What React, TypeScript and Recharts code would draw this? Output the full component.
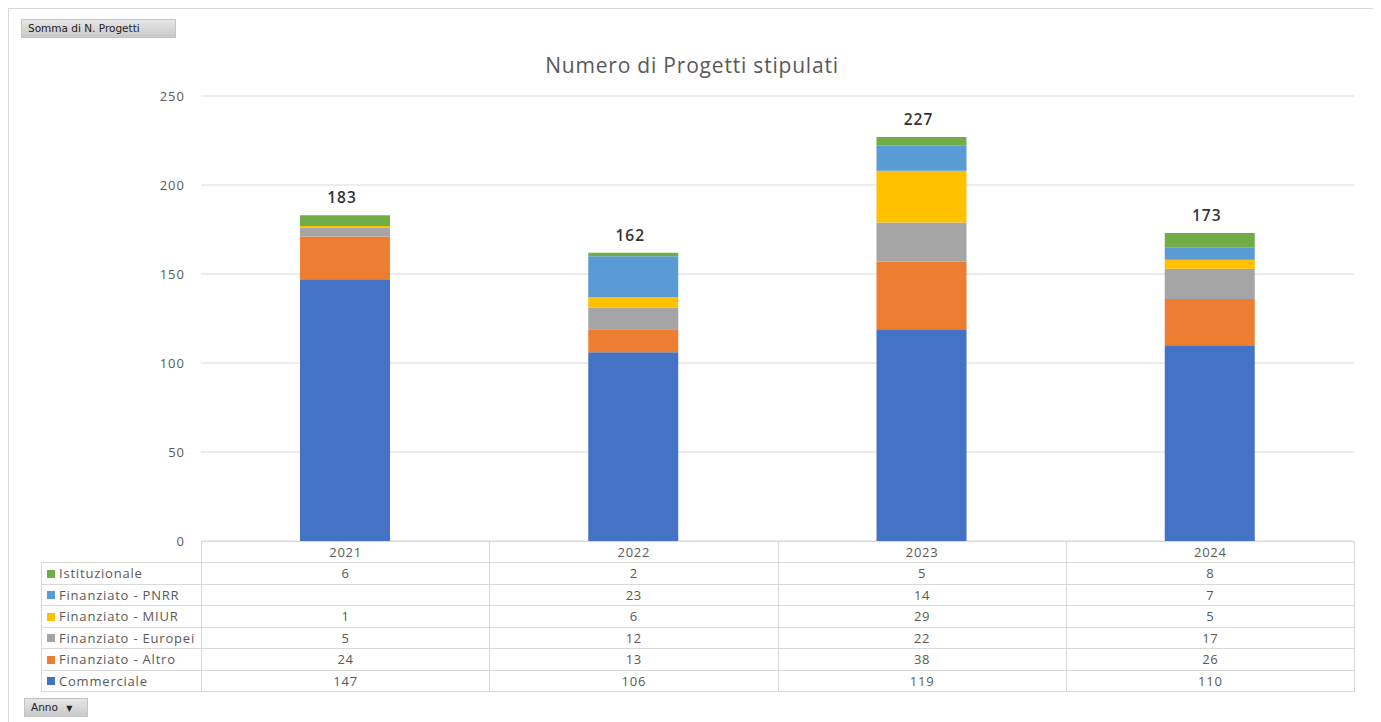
import React from "react";
import { BarChart, Bar, XAxis, YAxis, CartesianGrid, LabelList } from "recharts";

// Years on the category axis
const years = ["2021", "2022", "2023", "2024"];

// Project counts per funding type, one value per year
const commerciale = [147, 106, 119, 110];
const finanziatoAltro = [24, 13, 38, 26];
const finanziatoEuropei = [5, 12, 22, 17];
const finanziatoMiur = [1, 6, 29, 5];
const finanziatoPnrr = [null, 23, 14, 7];
const istituzionale = [6, 2, 5, 8];

const yTicks = [0, 50, 100, 150, 200, 250];

// Stack order from bottom to top
const seriesDefs = [
  { key: "commerciale", name: "Commerciale", color: "#4472C4", values: commerciale },
  { key: "altro", name: "Finanziato - Altro", color: "#ED7D31", values: finanziatoAltro },
  { key: "europei", name: "Finanziato - Europei", color: "#A5A5A5", values: finanziatoEuropei },
  { key: "miur", name: "Finanziato - MIUR", color: "#FFC000", values: finanziatoMiur },
  { key: "pnrr", name: "Finanziato - PNRR", color: "#5B9BD5", values: finanziatoPnrr },
  { key: "istituzionale", name: "Istituzionale", color: "#70AD47", values: istituzionale },
];

const data = years.map((year, i) => {
  const row: Record<string, any> = { year };
  let total = 0;
  seriesDefs.forEach((s) => {
    row[s.key] = s.values[i];
    total += s.values[i] ?? 0;
  });
  row.total = total;
  return row;
});

const FONT = "'Open Sans', 'Noto Sans', sans-serif";
const GRID = "#d9d9d9";
const TEXT = "#595959";

const W = 1366;
const PLOT_LEFT = 192;
const PLOT_RIGHT = 1345;
const PLOT_TOP = 87;
const PLOT_BOTTOM = 532;
const CHART_H = 540;
const LEGEND_COL = 160;
const CAT_W = (PLOT_RIGHT - PLOT_LEFT) / years.length;

const buttonStyle: React.CSSProperties = {
  position: "absolute",
  height: 19,
  boxSizing: "border-box",
  background: "linear-gradient(#e6e6e6, #c9c9c9)",
  border: "1px solid #c4c4c4",
  fontFamily: "'DejaVu Sans', Verdana, sans-serif",
  fontSize: 10.5,
  color: "#222",
  lineHeight: "17px",
  paddingLeft: 6,
};

export default function App() {
  // Table rows listed top to bottom (reverse of the stack order)
  const tableRows = [...seriesDefs].reverse();
  const cellBorder = `1px solid ${GRID}`;
  return (
    <div
      style={{
        position: "relative",
        width: W,
        height: 714,
        boxSizing: "border-box",
        borderTop: `1px solid ${GRID}`,
        borderLeft: `1px solid ${GRID}`,
        borderRight: `1px solid ${GRID}`,
        background: "#fff",
        fontFamily: FONT,
      }}
    >
      <div style={{ ...buttonStyle, left: 12, top: 10, width: 155 }}>Somma di N. Progetti</div>

      <div
        style={{
          position: "absolute",
          left: 0,
          width: W,
          top: 42,
          textAlign: "center",
          fontSize: 21,
          letterSpacing: 0.8,
          color: TEXT,
          fontFamily: FONT,
        }}
      >
        Numero di Progetti stipulati
      </div>

      <div style={{ position: "absolute", left: 0, top: 0 }}>
        <BarChart
          width={W}
          height={CHART_H}
          data={data}
          barSize={90}
          margin={{ top: PLOT_TOP, right: W - PLOT_RIGHT, bottom: CHART_H - PLOT_BOTTOM, left: PLOT_LEFT - 40 }}
        >
          <CartesianGrid vertical={false} stroke={GRID} />
          <XAxis dataKey="year" hide />
          <YAxis
            width={40}
            domain={[0, 250]}
            ticks={yTicks}
            axisLine={false}
            tickLine={false}
            tickMargin={10}
            tick={{ fill: TEXT, fontSize: 13, fontFamily: FONT, letterSpacing: 1 }}
          />
          {seriesDefs.map((s, idx) => (
            <Bar
              key={s.key}
              dataKey={s.key}
              name={s.name}
              stackId="a"
              fill={s.color}
              isAnimationActive={false}
            >
              {idx === seriesDefs.length - 1 && (
                <LabelList
                  dataKey="total"
                  position="top"
                  offset={12}
                  dx={-3}
                  fill="#333"
                  fontSize={15.5}
                  fontWeight={600}
                  fontFamily={FONT}
                  style={{ letterSpacing: 1 }}
                />
              )}
            </Bar>
          ))}
        </BarChart>
      </div>

      <table
        style={{
          position: "absolute",
          left: PLOT_LEFT - LEGEND_COL,
          top: PLOT_BOTTOM,
          borderCollapse: "collapse",
          tableLayout: "fixed",
          width: LEGEND_COL + CAT_W * years.length,
          fontFamily: FONT,
          fontSize: 13,
          letterSpacing: 0.8,
          color: TEXT,
        }}
      >
        <colgroup>
          <col style={{ width: LEGEND_COL }} />
          {years.map((y) => (
            <col key={y} style={{ width: CAT_W }} />
          ))}
        </colgroup>
        <tbody>
          <tr style={{ height: 21 }}>
            <td style={{ padding: 0 }} />
            {years.map((y) => (
              <td key={y} style={{ border: cellBorder, textAlign: "center", padding: 0 }}>
                {y}
              </td>
            ))}
          </tr>
          {tableRows.map((s) => (
            <tr key={s.key} style={{ height: 21.5 }}>
              <td style={{ border: cellBorder, padding: "0 0 0 5px", whiteSpace: "nowrap" }}>
                <span
                  style={{
                    display: "inline-block",
                    width: 8,
                    height: 8,
                    background: s.color,
                    marginRight: 4,
                    verticalAlign: "middle",
                    position: "relative",
                    top: -1,
                  }}
                />
                {s.name}
              </td>
              {s.values.map((v, i) => (
                <td key={i} style={{ border: cellBorder, textAlign: "center", padding: 0 }}>
                  {v ?? ""}
                </td>
              ))}
            </tr>
          ))}
        </tbody>
      </table>

      <div style={{ ...buttonStyle, left: 15, top: 689, width: 64 }}>
        Anno <span style={{ fontSize: 8, marginLeft: 5 }}>▼</span>
      </div>
    </div>
  );
}
